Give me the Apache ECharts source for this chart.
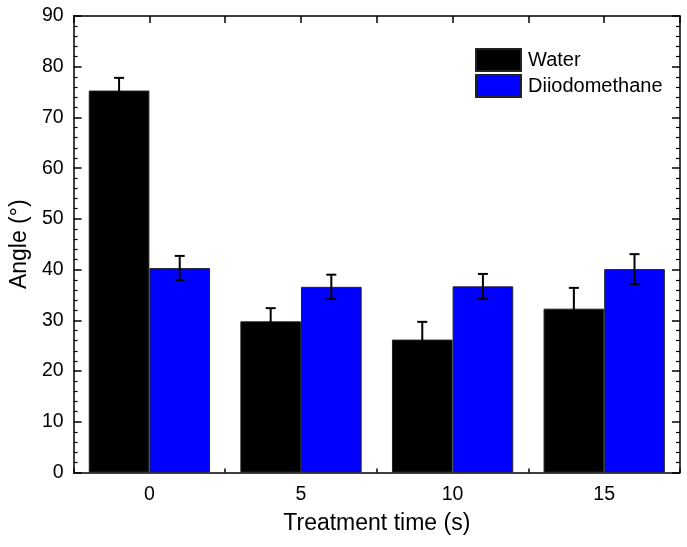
<!DOCTYPE html>
<html>
<head>
<meta charset="utf-8">
<script src="https://cdn.jsdelivr.net/npm/echarts@6/dist/echarts.min.js"></script>
<style>html,body{margin:0;padding:0;background:#fff;}#c{width:687px;height:547px;}</style>
</head>
<body>
<div id="c"></div>
<script>
const categories = ['0', '5', '10', '15'];
const water = [75.3, 29.8, 26.2, 32.3];
const waterErr = [2.5, 2.6, 3.5, 4.1];
const diiodo = [40.3, 36.6, 36.7, 40.1];
const diiodoErr = [2.4, 2.4, 2.45, 2.95];
const yTicks = [0, 10, 20, 30, 40, 50, 60, 70, 80, 90];

const FONT = 'Liberation Sans, Arial, sans-serif';
const chart = echarts.init(document.getElementById('c'));

const errData = [];
water.forEach((v, i) => errData.push([i, v, waterErr[i], 0]));
diiodo.forEach((v, i) => errData.push([i, v, diiodoErr[i], 1]));

const lineStyle = { stroke: '#000', lineWidth: 2 };

chart.setOption({
  animation: false,
  backgroundColor: '#fff',
  grid: { left: 72, right: 7, top: 16, bottom: 74.5, containLabel: false },
  legend: {
    data: ['Water', 'Diiodomethane'],
    orient: 'vertical',
    left: 475, top: 48,
    padding: 0,
    itemWidth: 45, itemHeight: 22, itemGap: 2,
    icon: 'rect',
    textStyle: { fontFamily: FONT, fontSize: 20, color: '#000', padding: [0, 0, 0, 2] }
  },
  xAxis: [{
    type: 'category',
    data: categories,
    position: 'bottom',
    name: 'Treatment time (s)',
    nameLocation: 'middle',
    nameGap: 40,
    nameTextStyle: { fontFamily: FONT, fontSize: 23, color: '#000' },
    axisLine: { onZero: false, lineStyle: { color: '#000', width: 1.5 } },
    axisTick: { show: true, inside: true, length: 4, interval: 0, lineStyle: { color: '#000', width: 1.5 } },
    axisLabel: { fontFamily: FONT, fontSize: 19.5, color: '#000', margin: 12 },
    splitLine: { show: false }
  }, {
    type: 'value',
    position: 'top',
    min: -0.5, max: 3.5, interval: 0.5,
    axisLine: { show: true, onZero: false, lineStyle: { color: '#000', width: 1.5 } },
    axisTick: { show: true, inside: true, length: 7, lineStyle: { color: '#000', width: 1.5 } },
    axisLabel: { show: false },
    splitLine: { show: false }
  }],
  yAxis: [{
    type: 'value',
    min: yTicks[0], max: yTicks[yTicks.length - 1], interval: 10,
    position: 'left',
    name: 'Angle (°)',
    nameLocation: 'middle',
    nameGap: 42,
    nameTextStyle: { fontFamily: FONT, fontSize: 23, color: '#000' },
    axisLine: { show: true, onZero: false, lineStyle: { color: '#000', width: 1.5 } },
    axisTick: { show: true, inside: true, length: 8, lineStyle: { color: '#000', width: 1.5 } },
    minorTick: { show: true, splitNumber: 5, length: 4, lineStyle: { color: '#000', width: 1.2 } },
    axisLabel: { fontFamily: FONT, fontSize: 19.5, color: '#000', margin: 10 },
    splitLine: { show: false }
  }, {
    type: 'value',
    min: 0, max: 90, interval: 10,
    position: 'right',
    axisLine: { show: true, onZero: false, lineStyle: { color: '#000', width: 1.5 } },
    axisTick: { show: true, inside: true, length: 8, lineStyle: { color: '#000', width: 1.5 } },
    minorTick: { show: true, splitNumber: 5, length: 4, lineStyle: { color: '#000', width: 1.2 } },
    axisLabel: { show: false },
    splitLine: { show: false }
  }],
  series: [{
    name: 'Water',
    type: 'bar',
    data: water,
    barGap: '0%',
    barCategoryGap: '20%',
    itemStyle: { color: '#000', borderColor: '#222', borderWidth: 1 }
  }, {
    name: 'Diiodomethane',
    type: 'bar',
    data: diiodo,
    barGap: '0%',
    barCategoryGap: '20%',
    itemStyle: { color: '#0000FF', borderColor: '#222', borderWidth: 1 }
  }, {
    name: 'err',
    type: 'custom',
    z: 10,
    data: errData,
    renderItem: function (params, api) {
      const idx = api.value(0), v = api.value(1), e = api.value(2), s = api.value(3);
      const band = api.size([1, 0])[0];
      const c = api.coord([idx, v]);
      const x = c[0] + (s === 0 ? -1 : 1) * band * 0.2;
      const hi = api.coord([idx, v + e])[1];
      const lo = api.coord([idx, v - e])[1];
      const cw = 5;
      return {
        type: 'group',
        children: [
          { type: 'line', shape: { x1: x, y1: hi, x2: x, y2: lo }, style: lineStyle },
          { type: 'line', shape: { x1: x - cw, y1: hi, x2: x + cw, y2: hi }, style: lineStyle },
          { type: 'line', shape: { x1: x - cw, y1: lo, x2: x + cw, y2: lo }, style: lineStyle }
        ]
      };
    }
  }]
});
</script>
</body>
</html>
